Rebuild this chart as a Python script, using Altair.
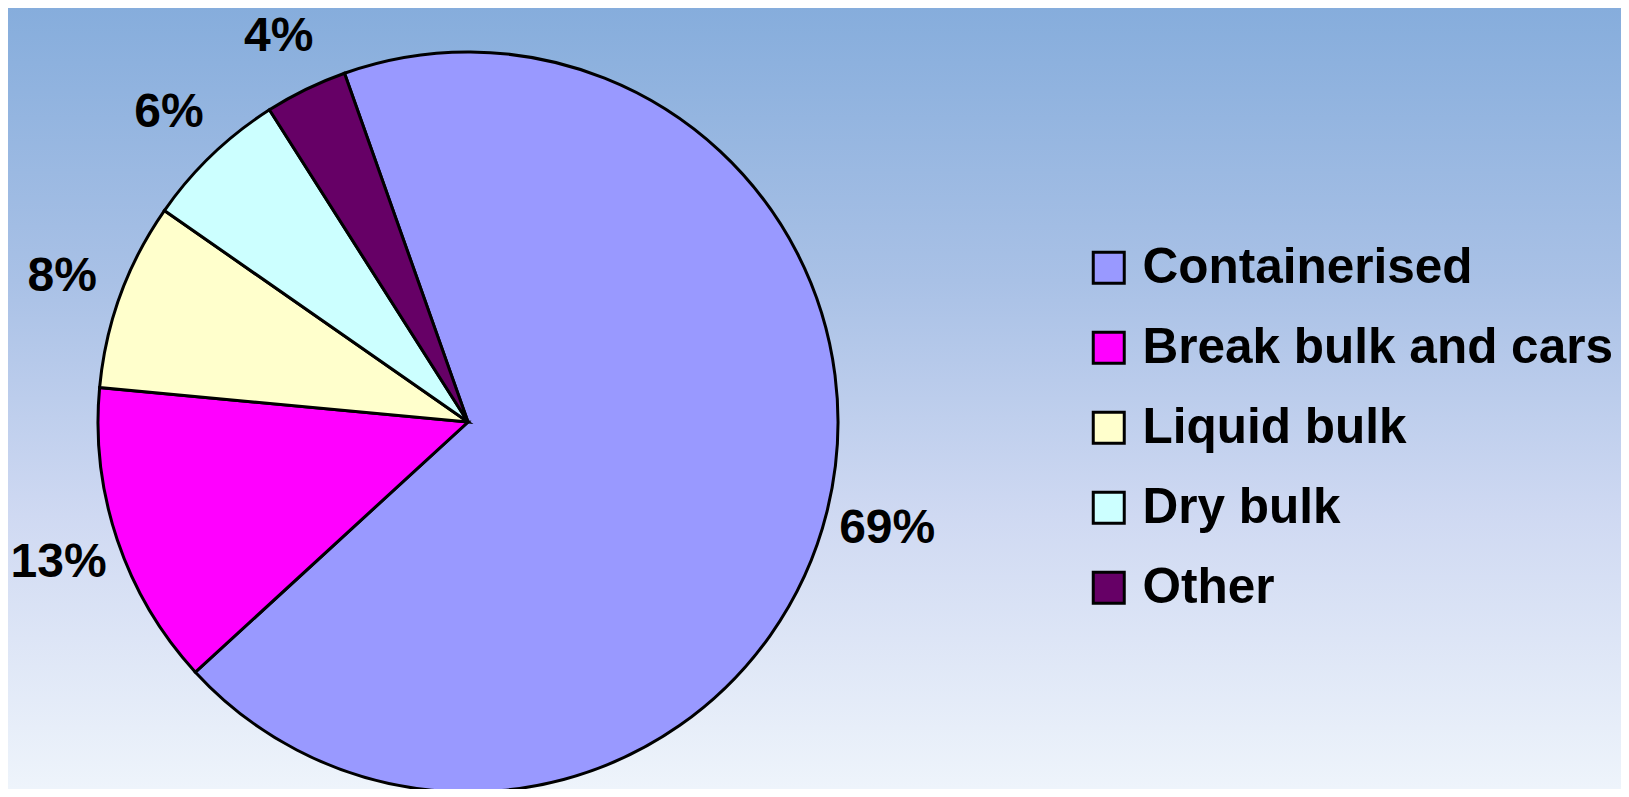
import math
import altair as alt
import pandas as pd

# ---- data ----
categories = ["Containerised", "Break bulk and cars", "Liquid bulk", "Dry bulk", "Other"]
shares = [68.6, 13.3, 8.2, 6.3, 3.6]
colors = ["#9999FF", "#FF00FF", "#FFFFCC", "#CCFFFF", "#660066"]

df = pd.DataFrame({
    "category": categories,
    "share": shares,
    "order": list(range(len(categories))),
    "label": [f"{round(v)}%" for v in shares],
})

W, H = 1613, 781
CX, CY = 460, 414
R = 370
LABEL_R = 432
start = math.radians(340.5)
FONT = "Liberation Sans"

theta = alt.Theta("share:Q", stack=True,
                  scale=alt.Scale(range=[start, start + 2 * math.pi]))
color = alt.Color(
    "category:N",
    scale=alt.Scale(domain=categories, range=colors),
    legend=alt.Legend(
        title=None, orient="none", legendX=1076, legendY=235,
        symbolType="square", symbolSize=961, symbolStrokeColor="black",
        symbolStrokeWidth=3, symbolOpacity=1,
        labelFont=FONT, labelFontSize=49.5, labelFontWeight="bold",
        labelColor="black", labelLimit=800, labelOffset=9,
        rowPadding=29, padding=0,
    ),
)

bg = alt.Chart(pd.DataFrame({"a": [0]})).mark_rect(
    color=alt.LinearGradient(
        gradient="linear", x1=0, x2=0, y1=0, y2=1,
        stops=[
            alt.GradientStop(offset=0, color="#86ADDC"),
            alt.GradientStop(offset=0.35, color="#A9C1E6"),
            alt.GradientStop(offset=0.65, color="#CFD9F2"),
            alt.GradientStop(offset=1, color="#EEF4FB"),
        ],
    )
).encode(x=alt.value(0), x2=alt.value(W), y=alt.value(0), y2=alt.value(H))

base = alt.Chart(df).encode(
    theta=theta,
    order=alt.Order("order:Q"),
)

pie = base.mark_arc(stroke="black", strokeWidth=3, outerRadius=R).encode(
    color=color, x=alt.value(CX), y=alt.value(CY)
)

labels = base.mark_text(
    radius=LABEL_R, font=FONT, fontSize=48, fontWeight="bold", color="black",
    align="center", baseline="middle", dy=3,
).encode(text="label:N", x=alt.value(CX), y=alt.value(CY))

chart = alt.layer(bg, pie, labels).properties(
    width=W, height=H, padding=0, autosize=alt.AutoSizeParams(type="none")
).configure_view(stroke=None)

chart.save("out.html", embed_options={"renderer": "svg", "actions": False})
